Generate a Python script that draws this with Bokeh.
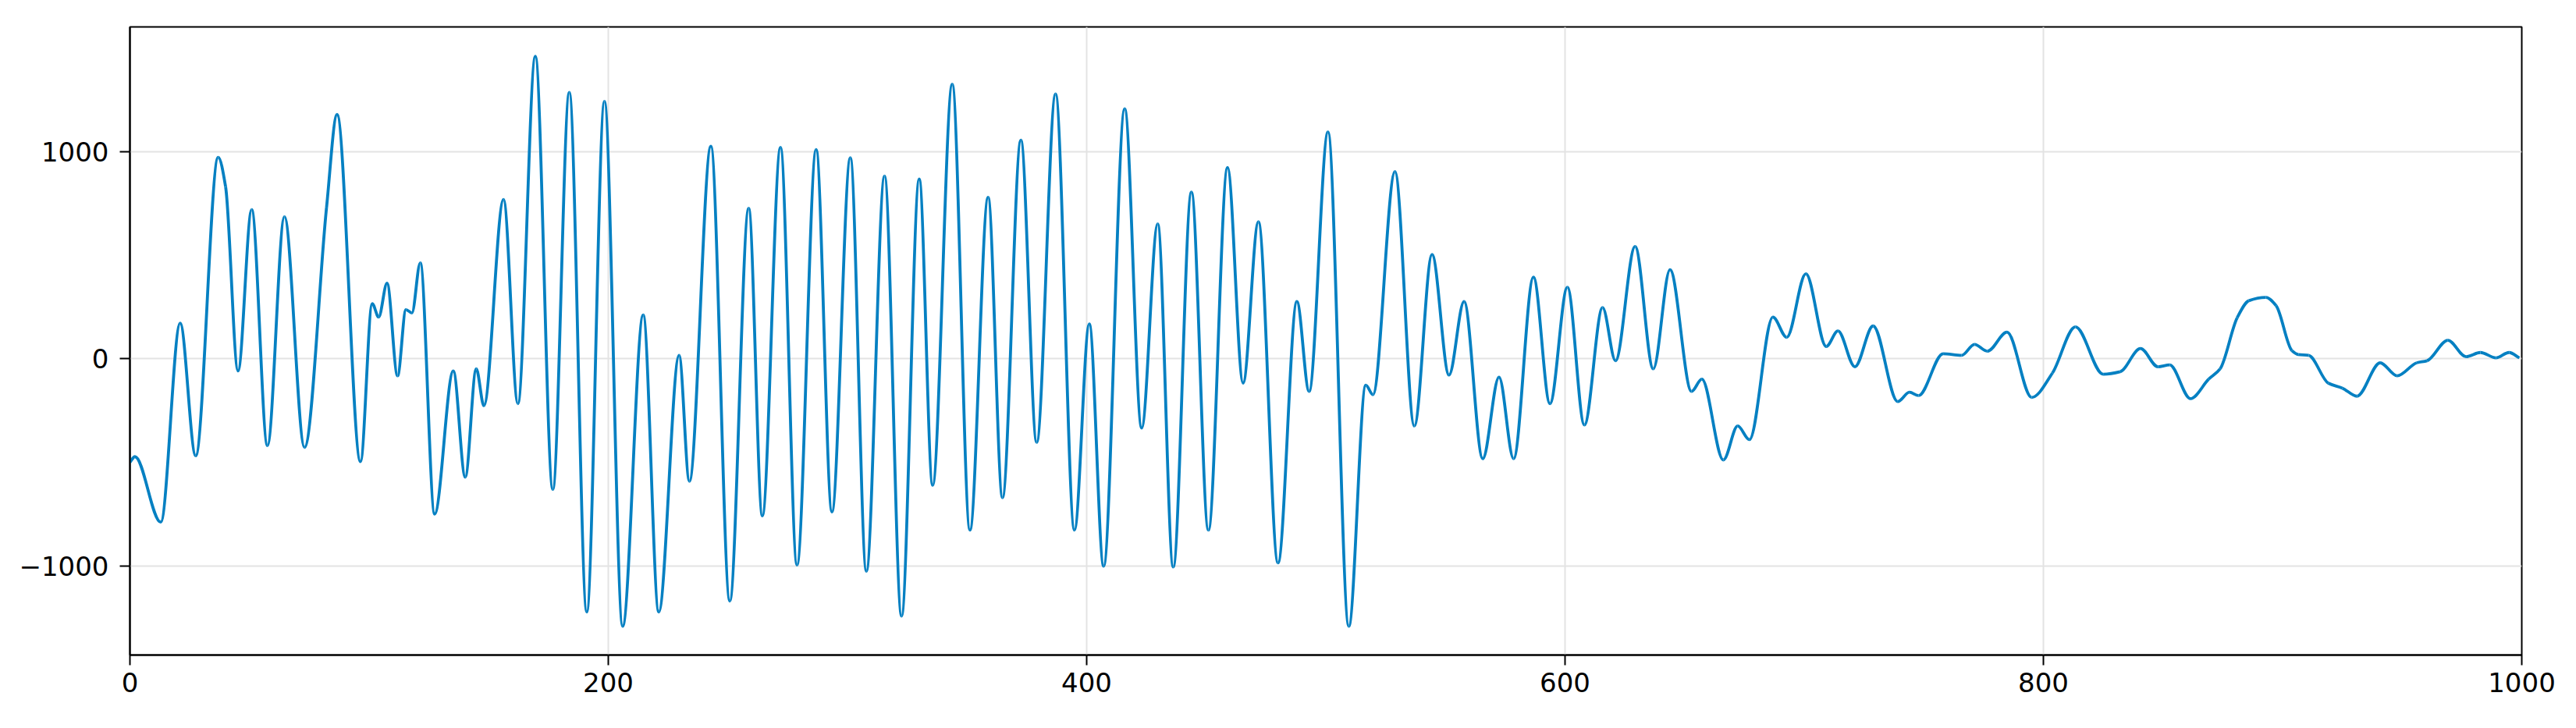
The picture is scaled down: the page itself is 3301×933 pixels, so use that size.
from bokeh.plotting import figure
from bokeh.models import FixedTicker, Range1d, ColumnDataSource
from bokeh.embed import file_html
from bokeh.resources import INLINE

# Waveform values (x, amplitude)
xs = [0, 2.1, 12.9, 21.0, 27.5, 36.9, 40.0, 45.2, 50.9, 57.5, 64.6, 73.0, 82.2, 86.6,
      96.4, 101.3, 104.0, 107.5, 111.9, 115.4, 117.9, 121.4, 127.4, 135.2, 140.2, 144.8,
      148.0, 156.2, 162.2, 169.5, 176.8, 183.7, 191.0, 198.4, 206.0, 214.6, 221.1, 229.6,
      233.9, 242.9, 250.8, 258.7, 264.4, 272.0, 278.9, 286.9, 293.5, 301.2, 307.9, 315.5,
      322.6, 330.0, 335.6, 343.8, 351.2, 358.8, 364.8, 372.5, 379.1, 387.0, 394.9, 401.1,
      407.1, 415.9, 423.0, 429.7, 436.2, 443.8, 450.9, 458.9, 465.4, 471.8, 480.0, 487.9,
      493.0, 500.9, 509.6, 516.7, 519.7, 528.9, 537.0, 544.4, 551.5, 557.8, 565.6, 572.4,
      578.5, 586.8, 593.7, 601.0, 608.1, 615.7, 621.1, 629.3, 636.9, 643.9, 652.9, 657.2,
      666.2, 672.2, 677.1, 686.9, 692.7, 700.7, 709.2, 714.1, 721.2, 728.8, 739.1, 744.0,
      747.8, 758.1, 765.8, 771.2, 776.6, 784.8, 795.1, 803.8, 813.4, 825.0, 832.1, 840.6,
      847.9, 852.8, 861.5, 869.1, 873.9, 881.0, 885.9, 893.0, 897.3, 903.9, 906.6,
      910.9, 919.1, 925.0, 931.1, 940.8, 947.9, 956.1, 960.4, 969.1, 976.7, 982.7, 989.2,
      994.7, 999.0]
ys = [-500, -473, -789, 172, -469, 972, 830, -59, 720, -420, 686, -428, 730, 1179,
      -497, 266, 201, 365, -83, 237, 221, 463, -750, -59, -572, -49,
      -227, 769, -217, 1460, -631, 1286, -1223, 1243, -1292, 211, -1223, 16,
      -592, 1026, -1170, 726, -759, 1020, -996, 1010, -740, 970, -1026, 882,
      -1243, 868, -611, 1325, -828, 779, -671, 1055, -404, 1278, -828, 168,
      -1002, 1207, -335, 651, -1006, 805, -828, 923, -118, 661, -986, 276,
      -158, 1095, -1292, -128, -174, 903, -325, 503, -79, 276, -483, -89,
      -483, 394, -217, 345, -320, 247, -10, 542, -49, 430, -158, -99,
      -489, -325, -391, 201, 103, 410, 59, 134, -39, 158, -207, -162,
      -178, 24, 16, 69, 36, 128, -187, -69, 154, -75, -63, 49,
      -39, -30, -193, -99, -49, 197, 280, 296, 256, 39, 20,
      16, -118, -142, -181, -20, -83, -20, -10, 89, 10, 30, 4,
      30, 4]

x_ticks = [0, 200, 400, 600, 800, 1000]
y_ticks = [-1000, 0, 1000]
y_labels = {-1000: "\u22121000", 0: "0", 1000: "1000"}

# Smooth rendering: cubic Bezier segments between the read points,
# with monotone (shape-preserving) tangents, so every read point is passed exactly.
n = len(xs)
h = [xs[i + 1] - xs[i] for i in range(n - 1)]
d = [(ys[i + 1] - ys[i]) / h[i] for i in range(n - 1)]
m = [0.0] * n
m[0] = d[0]
m[-1] = d[-1]
for i in range(1, n - 1):
    if d[i - 1] * d[i] <= 0:
        m[i] = 0.0
    else:
        w1 = 2 * h[i] + h[i - 1]
        w2 = h[i] + 2 * h[i - 1]
        m[i] = (w1 + w2) / (w1 / d[i - 1] + w2 / d[i])

seg = dict(x0=[], y0=[], x1=[], y1=[], cx0=[], cy0=[], cx1=[], cy1=[])
for i in range(n - 1):
    seg["x0"].append(xs[i]); seg["y0"].append(ys[i])
    seg["x1"].append(xs[i + 1]); seg["y1"].append(ys[i + 1])
    seg["cx0"].append(xs[i] + h[i] / 3); seg["cy0"].append(ys[i] + m[i] * h[i] / 3)
    seg["cx1"].append(xs[i + 1] - h[i] / 3); seg["cy1"].append(ys[i + 1] - m[i + 1] * h[i] / 3)
src = ColumnDataSource(seg)

p = figure(output_backend="svg", toolbar_location=None,
           frame_width=3065, frame_height=805,
           min_border_left=166, min_border_right=54,
           min_border_top=34, min_border_bottom=78,
           x_range=Range1d(0, 1000), y_range=Range1d(-1431, 1602))

p.bezier(x0="x0", y0="y0", x1="x1", y1="y1", cx0="cx0", cy0="cy0",
         cx1="cx1", cy1="cy1", source=src, line_color="#0580C2", line_width=3.8)

p.outline_line_color = "black"
p.outline_line_width = 2
p.background_fill_color = "white"
p.border_fill_color = "white"

p.xaxis.ticker = FixedTicker(ticks=x_ticks)
p.yaxis.ticker = FixedTicker(ticks=y_ticks)
p.yaxis.major_label_overrides = y_labels

for ax in (p.xaxis[0], p.yaxis[0]):
    ax.axis_line_color = "black"
    ax.axis_line_width = 2
    ax.major_tick_line_color = "black"
    ax.major_tick_line_width = 2
    ax.major_tick_out = 13
    ax.major_tick_in = 0
    ax.minor_tick_line_color = None
    ax.major_label_text_font = "DejaVu Sans"
    ax.major_label_text_font_size = "34px"
    ax.major_label_text_color = "black"
p.xaxis.major_label_standoff = 9
p.yaxis.major_label_standoff = 14

p.xgrid.ticker = FixedTicker(ticks=x_ticks)
p.ygrid.ticker = FixedTicker(ticks=y_ticks)
p.grid.grid_line_color = "#e3e3e3"
p.grid.grid_line_width = 2

open("out.html", "w").write(file_html(p, INLINE))
